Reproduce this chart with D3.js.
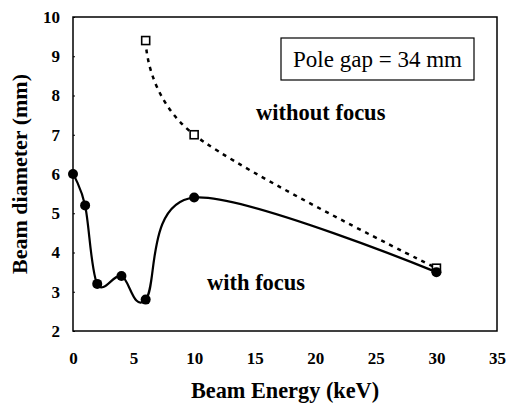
<!DOCTYPE html>
<html><head><meta charset="utf-8">
<script src="https://cdn.jsdelivr.net/npm/d3@7"></script>
<style>body{margin:0;background:#fff}svg{display:block}</style>
</head><body>
<svg id="c" width="508" height="405"></svg>
<script>
const withFocusX = [0, 1, 2, 4, 6, 10, 30];
const withFocusY = [6.0, 5.2, 3.2, 3.4, 2.8, 5.4, 3.5];
const withoutFocusX = [6, 10, 30];
const withoutFocusY = [9.4, 7.0, 3.6];
const xTicks = [0, 5, 10, 15, 20, 25, 30, 35];
const yTicks = [2, 3, 4, 5, 6, 7, 8, 9, 10];

const svg = d3.select("#c");
const L = 73, R = 497, T = 17, B = 331;
const x = d3.scaleLinear().domain([0, 35]).range([L, R]);
const y = d3.scaleLinear().domain([2, 10]).range([B, T]);
const font = "'Liberation Serif','Times New Roman',serif";

// frame
svg.append("rect").attr("x", L).attr("y", T).attr("width", R - L).attr("height", B - T)
  .attr("fill", "none").attr("stroke", "#000").attr("stroke-width", 1.5);

// axes
const xa = svg.append("g").attr("transform", `translate(0,${B})`)
  .call(d3.axisBottom(x).tickValues(xTicks).tickSize(0).tickPadding(21));
const ya = svg.append("g").attr("transform", `translate(${L},0)`)
  .call(d3.axisLeft(y).tickValues(yTicks).tickSize(-2).tickPadding(13));
[xa, ya].forEach(a => {
  a.select(".domain").remove();
  a.selectAll("text").attr("font-family", font).attr("font-weight", "bold")
    .attr("font-size", 17).attr("fill", "#000");
  a.selectAll("line").attr("stroke", "#000");
});

const pts1 = withFocusX.map((v, i) => [x(v), y(withFocusY[i])]);
const pts2 = withoutFocusX.map((v, i) => [x(v), y(withoutFocusY[i])]);
const line = d3.line().curve(d3.curveCardinal.tension(0));

svg.append("path").attr("d", line(pts2)).attr("fill", "none").attr("stroke", "#000")
  .attr("stroke-width", 2.5).attr("stroke-dasharray", "4,5");
svg.append("path").attr("d", line(pts1)).attr("fill", "none").attr("stroke", "#000")
  .attr("stroke-width", 2.2);

svg.selectAll("rect.s").data(pts2).enter().append("rect")
  .attr("x", d => d[0] - 4).attr("y", d => d[1] - 4).attr("width", 8).attr("height", 8)
  .attr("fill", "#fff").attr("stroke", "#000").attr("stroke-width", 1.6);
svg.selectAll("circle.p").data(pts1).enter().append("circle")
  .attr("cx", d => d[0]).attr("cy", d => d[1]).attr("r", 5).attr("fill", "#000");

// annotation box
svg.append("rect").attr("x", 281).attr("y", 38).attr("width", 193).attr("height", 42)
  .attr("fill", "#fff").attr("stroke", "#000").attr("stroke-width", 1.2);
svg.append("text").attr("x", 377.5).attr("y", 66.5).attr("text-anchor", "middle")
  .attr("font-family", font).attr("font-size", 23).text("Pole gap = 34 mm");

svg.append("text").attr("x", 256).attr("y", 120).attr("font-family", font)
  .attr("font-weight", "bold").attr("font-size", 22.5).text("without focus");
svg.append("text").attr("x", 207).attr("y", 290).attr("font-family", font)
  .attr("font-weight", "bold").attr("font-size", 22.5).text("with focus");

// axis titles
svg.append("text").attr("x", (L + R) / 2).attr("y", 398).attr("text-anchor", "middle")
  .attr("font-family", font).attr("font-weight", "bold").attr("font-size", 22.3)
  .text("Beam Energy (keV)");
svg.append("text").attr("transform", `translate(27,${(T + B) / 2}) rotate(-90)`)
  .attr("text-anchor", "middle").attr("font-family", font).attr("font-weight", "bold")
  .attr("font-size", 22).text("Beam diameter (mm)");
</script>
</body></html>
